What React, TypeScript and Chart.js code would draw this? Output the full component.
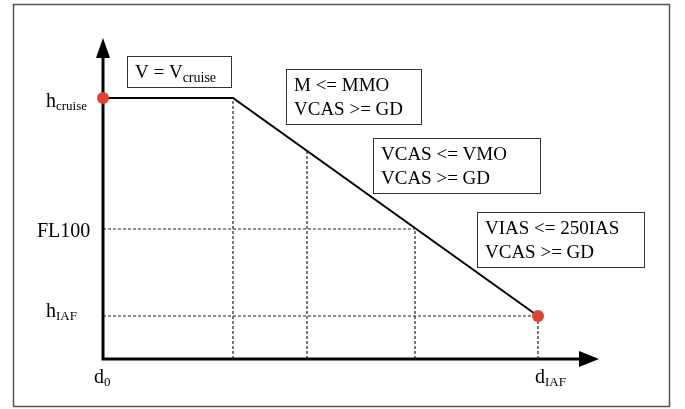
import React, { useEffect, useRef } from "react";
import { Chart, registerables } from "chart.js";

Chart.register(...registerables);

// Distances along track (d0, end of cruise, mid-descent, FL100 crossing, dIAF)
const distances = [0, 130, 204, 312, 435];
// Altitude of the descent profile at each distance
const profileAlt = [261, 261, 208, 130, 43];
// Altitude levels marked on the vertical axis
const levelNames = ["hcruise", "FL100", "hIAF"];
const levelValues = [261, 130, 43];
const X_MAX = 496;
const Y_MAX = 321;

// Constraint boxes: [x0, x1, yTop, yBottom] in data units, lines of text
const boxRects = [
  [24, 128, 303, 272],
  [183, 318, 290, 235],
  [270, 437, 221, 166],
  [374, 541, 147, 92],
];
const boxLines = [
  [["V = V", "cruise"]],
  [["M <= MMO", ""], ["VCAS >= GD", ""]],
  [["VCAS <= VMO", ""], ["VCAS >= GD", ""]],
  [["VIAS <= 250IAS", ""], ["VCAS >= GD", ""]],
];

const SERIF = '"Liberation Serif", "Times New Roman", serif';

function drawSub(ctx: CanvasRenderingContext2D, x: number, y: number, main: string, sub: string, mainSize: number, subSize: number, subDrop: number) {
  ctx.font = `${mainSize}px ${SERIF}`;
  ctx.textAlign = "left";
  ctx.textBaseline = "alphabetic";
  ctx.fillText(main, x, y);
  const w = ctx.measureText(main).width;
  if (sub) {
    ctx.font = `${subSize}px ${SERIF}`;
    ctx.fillText(sub, x + w, y + subDrop);
  }
}

const decorPlugin = {
  id: "decor",
  beforeDatasetsDraw(chart: any) {
    const ctx: CanvasRenderingContext2D = chart.ctx;
    const xs = chart.scales.x;
    const ys = chart.scales.y;
    ctx.save();
    // outer frame
    ctx.strokeStyle = "#555";
    ctx.lineWidth = 1.5;
    ctx.strokeRect(13.5, 4.5, 656, 402);

    const ox = xs.getPixelForValue(0);
    const oy = ys.getPixelForValue(0);
    const tipY = ys.getPixelForValue(Y_MAX);
    const tipX = xs.getPixelForValue(X_MAX);
    ctx.strokeStyle = "#000";
    ctx.fillStyle = "#000";
    ctx.lineWidth = 3;
    ctx.beginPath();
    ctx.moveTo(ox, oy);
    ctx.lineTo(ox, tipY + 18);
    ctx.moveTo(ox - 1.5, oy);
    ctx.lineTo(tipX - 18, oy);
    ctx.stroke();
    // arrow heads
    ctx.beginPath();
    ctx.moveTo(ox, tipY);
    ctx.lineTo(ox - 7, tipY + 20);
    ctx.lineTo(ox + 7, tipY + 20);
    ctx.closePath();
    ctx.fill();
    ctx.beginPath();
    ctx.moveTo(tipX, oy);
    ctx.lineTo(tipX - 20, oy - 8);
    ctx.lineTo(tipX - 20, oy + 8);
    ctx.closePath();
    ctx.fill();

    // boxes
    ctx.lineWidth = 1;
    ctx.strokeStyle = "#333";
    boxRects.forEach((r, i) => {
      const x0 = Math.round(xs.getPixelForValue(r[0])) + 0.5;
      const x1 = Math.round(xs.getPixelForValue(r[1])) + 0.5;
      const y0 = Math.round(ys.getPixelForValue(r[2])) + 0.5;
      const y1 = Math.round(ys.getPixelForValue(r[3])) + 0.5;
      ctx.fillStyle = "#fff";
      ctx.fillRect(x0, y0, x1 - x0, y1 - y0);
      ctx.strokeRect(x0, y0, x1 - x0, y1 - y0);
      ctx.fillStyle = "#000";
      boxLines[i].forEach((ln, j) => {
        drawSub(ctx, x0 + 7.5, y0 + 21.5 + j * 24, ln[0], ln[1], 19, 14, 4);
      });
    });

    // level labels
    ctx.fillStyle = "#000";
    levelNames.forEach((name, i) => {
      const y = ys.getPixelForValue(levelValues[i]);
      if (name === "hcruise") drawSub(ctx, ox - 57, y + 9, "h", "cruise", 20, 13, 3);
      else if (name === "FL100") drawSub(ctx, ox - 66, y + 8, "FL100", "", 20, 13, 0);
      else drawSub(ctx, ox - 57, y + 1, "h", "IAF", 20, 13, 3);
    });
    // distance labels
    const yl = oy + 24;
    drawSub(ctx, xs.getPixelForValue(distances[0]) - 9, yl, "d", "0", 20, 13, 3);
    drawSub(ctx, xs.getPixelForValue(distances[4]) - 3, yl, "d", "IAF", 20, 13, 3);
    ctx.restore();
  },
};

export default function App() {
  const ref = useRef<HTMLCanvasElement | null>(null);
  useEffect(() => {
    document.body.style.margin = "0";
    const canvas = ref.current!;
    const dotted = (pts: { x: number; y: number }[]) => ({
      data: pts,
      showLine: true,
      borderColor: "#222",
      borderWidth: 1.2,
      borderDash: [3, 2],
      pointRadius: 0,
      order: 2,
    });
    const datasets: any[] = [];
    // vertical dotted guides from axis to profile
    for (let i = 1; i < distances.length; i++) {
      datasets.push(dotted([{ x: distances[i], y: 0 }, { x: distances[i], y: profileAlt[i] }]));
    }
    // horizontal dotted guides at FL100 and hIAF
    datasets.push(dotted([{ x: 0, y: levelValues[1] }, { x: distances[3], y: levelValues[1] }]));
    datasets.push(dotted([{ x: 0, y: levelValues[2] }, { x: distances[4], y: levelValues[2] }]));
    // descent profile
    datasets.push({
      data: [0, 1, 4].map((i) => ({ x: distances[i], y: profileAlt[i] })),
      showLine: true,
      borderColor: "#000",
      borderWidth: 2,
      pointRadius: 0,
      order: 1,
    });
    // start / end points
    datasets.push({
      data: [{ x: distances[0], y: profileAlt[0] }, { x: distances[4], y: profileAlt[4] }],
      showLine: false,
      pointRadius: 6,
      pointBackgroundColor: "#e0432f",
      pointBorderWidth: 0,
      clip: false,
      order: 0,
    });
    const chart = new Chart(canvas, {
      type: "scatter",
      data: { datasets },
      options: {
        animation: false,
        responsive: false,
        events: [],
        layout: { padding: { left: 103, right: 86, top: 38, bottom: 50 } },
        plugins: { legend: { display: false }, tooltip: { enabled: false } },
        scales: {
          x: { type: "linear", min: 0, max: X_MAX, display: false },
          y: { type: "linear", min: 0, max: Y_MAX, display: false },
        },
      },
      plugins: [decorPlugin],
    });
    return () => chart.destroy();
  }, []);
  return <canvas ref={ref} width={685} height={409} style={{ display: "block" }} />;
}
